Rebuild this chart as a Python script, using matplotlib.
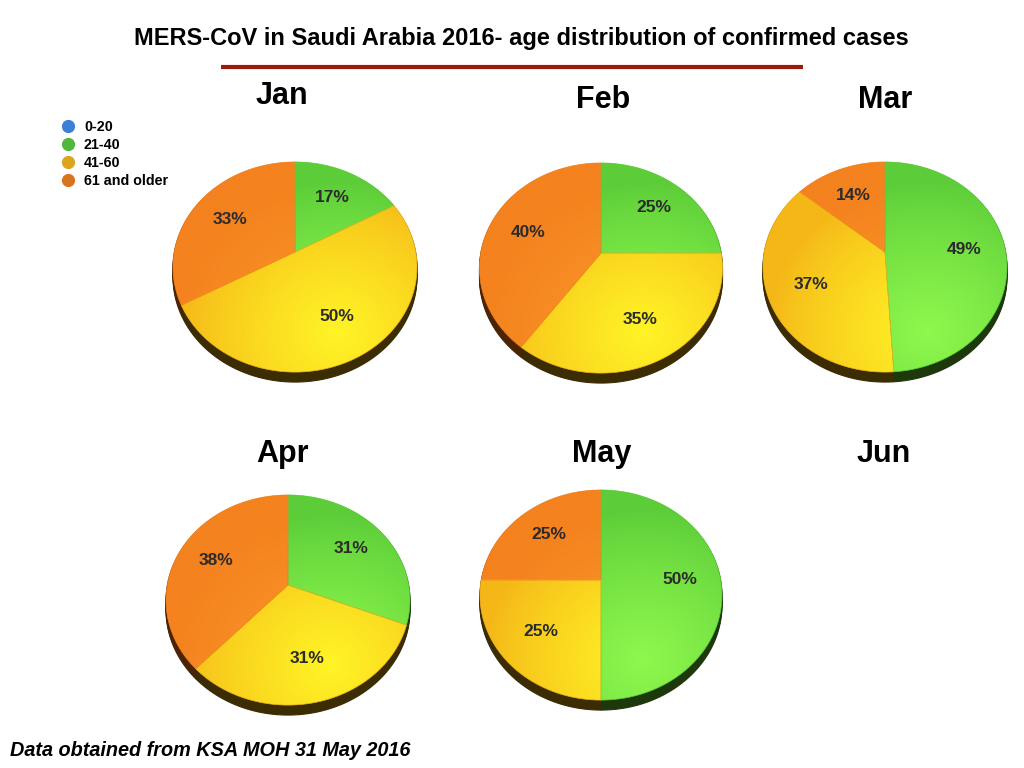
import matplotlib
matplotlib.use("Agg")
import matplotlib.pyplot as plt
import matplotlib.colors as mcolors
from matplotlib.patches import Polygon
import numpy as np

plt.rcParams['font.family'] = ['Liberation Sans', 'DejaVu Sans']

title = "MERS-CoV in Saudi Arabia 2016- age distribution of confirmed cases"
footer = "Data obtained from KSA MOH 31 May 2016"
age_groups = ["0-20", "21-40", "41-60", "61 and older"]
legend_colors = ["#3b7fd6", "#4db83b", "#dca51b", "#d9741d"]

months = ["Jan", "Feb", "Mar", "Apr", "May", "Jun"]
# percentages per age group (0-20, 21-40, 41-60, 61+)
jan = [0, 17, 50, 33]
feb = [0, 25, 35, 40]
mar = [0, 49, 37, 14]
apr = [0, 31, 31, 38]
may = [0, 50, 25, 25]
jun = None  # no data
data = [jan, feb, mar, apr, may, jun]

# shading: (edge colour, highlight colour, side colour) per age group
shade = [("#2f6fc4", "#5a9cf0", "#0e2440"),
         ("#5ccd39", "#8ff84d", "#1d380b"),
         ("#f5b718", "#fff426", "#3b2c04"),
         ("#f4821e", "#fa952a", "#4a2404")]

W, H = 1024, 768
fig = plt.figure(figsize=(W / 100, H / 100), dpi=100)
ax = fig.add_axes([0, 0, 1, 1])

ax.text(521, 38, title, ha='center', va='center', fontsize=17, fontweight='bold')
ax.plot([221, 803], [67, 67], color='#9b1a0a', lw=3, solid_capstyle='butt')
ax.text(10, 750, footer, ha='left', va='center', fontsize=14.3,
        fontweight='bold', fontstyle='italic')

for i, (lab, c) in enumerate(zip(age_groups, legend_colors)):
    y = 126 + i * 18
    ax.plot(68, y, 'o', ms=8.5, color=c)
    ax.text(84, y + 1, lab, ha='left', va='center', fontsize=10.3, fontweight='bold')

month_pos = [(282, 96), (603, 100), (885, 100), (282, 454), (602, 454), (884, 454)]
for m, pos in zip(months, month_pos):
    ax.text(pos[0], pos[1], m, ha='center', va='center', fontsize=22, fontweight='bold')

# pie hub (where slices meet) in pixels and half width; tilted disc seen in perspective
pie_hub = [(295, 252, 122), (601, 253, 121.5), (885, 252, 122),
           (288, 585, 122), (601, 580, 121), None]
K = 0.143          # perspective strength
RY = 102.9         # vertical radius before perspective
RIM = 10           # thickness of the disc side


def project(hx, hy, rx, f, ang):
    # ang in radians measured clockwise from 12 o'clock, f = fraction of radius
    u = f * np.sin(ang)
    v = f * np.cos(ang)
    den = 1 + K * v
    return hx + rx * u / den, hy - RY * v / den


def slice_poly(hx, hy, rx, a0, a1, dy=0.0):
    t = np.linspace(a0, a1, max(int(np.degrees(a1 - a0)), 2) + 1)
    xs, ys = project(hx, hy, rx, 1.0, t)
    xs = np.concatenate([[hx], xs])
    ys = np.concatenate([[hy], ys]) + dy
    return np.column_stack([xs, ys])


for vals, hub in zip(data, pie_hub):
    if vals is None or hub is None:
        continue
    hx, hy, half_w = hub
    rx = half_w * np.sqrt(1 - K ** 2)
    frac = np.array(vals, float) / np.sum(vals)
    edges = np.concatenate([[0], np.cumsum(frac)]) * 2 * np.pi

    # side of the disc
    for dy in np.linspace(RIM, 1, 6):
        for g, (a0, a1) in enumerate(zip(edges[:-1], edges[1:])):
            if a1 - a0 <= 0:
                continue
            ax.add_patch(Polygon(slice_poly(hx, hy, rx, a0, a1, dy), closed=True,
                                 fc=shade[g][2], ec=shade[g][2], lw=0.8, zorder=2))

    # shaded top face
    x0, x1 = hx - half_w - 2, hx + half_w + 2
    y0, y1 = hy - 95, hy + 125
    gx, gy = np.meshgrid(np.linspace(x0, x1, 200), np.linspace(y0, y1, 200))
    lx, ly = hx + 0.35 * half_w, hy + 80
    dist = np.sqrt(((gx - lx) / (1.3 * half_w)) ** 2 + ((gy - ly) / 150.0) ** 2)
    t = np.clip(1 - dist, 0, 1) ** 0.8
    for g, (a0, a1) in enumerate(zip(edges[:-1], edges[1:])):
        if a1 - a0 <= 0:
            continue
        c0 = np.array(mcolors.to_rgb(shade[g][0]))
        c1 = np.array(mcolors.to_rgb(shade[g][1]))
        img = c0[None, None, :] * (1 - t[..., None]) + c1[None, None, :] * t[..., None]
        poly = Polygon(slice_poly(hx, hy, rx, a0, a1), closed=True,
                       fc='none', ec=shade[g][0], lw=0.5, zorder=4)
        ax.add_patch(poly)
        im = ax.imshow(img, extent=(x0, x1, y1, y0), origin='upper',
                       interpolation='bilinear', zorder=3)
        im.set_clip_path(poly)
        mid = (a0 + a1) / 2
        tx, ty = project(hx, hy, rx, 0.66, mid)
        ax.text(tx, ty, f"{vals[g]:.0f}%", ha='center', va='center', fontsize=12.5,
                fontweight='bold', color='#2b2b2b', zorder=5)

ax.set_xlim(0, W)
ax.set_ylim(H, 0)
ax.set_aspect('auto')
ax.axis('off')

fig.savefig("out.png", dpi=100)
